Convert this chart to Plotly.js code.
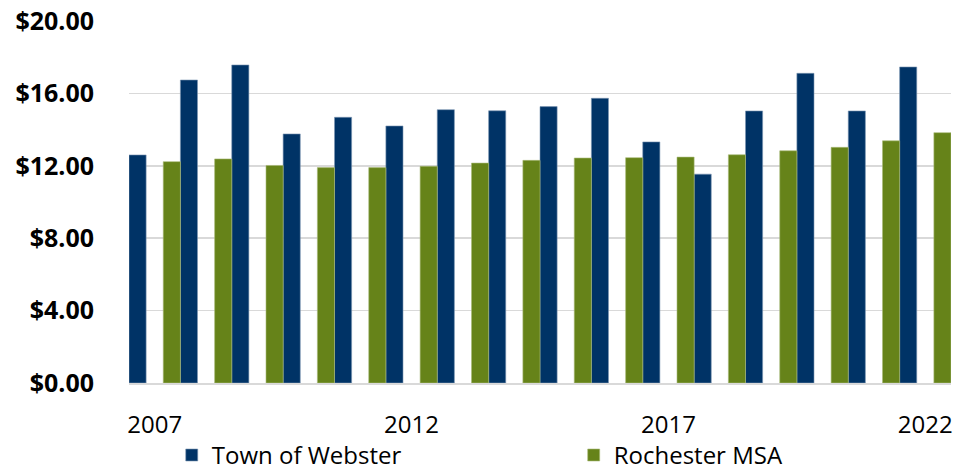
<!DOCTYPE html>
<html>
<head>
<meta charset="utf-8">
<script src="https://cdn.plot.ly/plotly-3.0.1.min.js"></script>
<style>
html,body{margin:0;padding:0;background:#fff;}
#chart{width:955px;height:472px;}
</style>
</head>
<body>
<div id="chart"></div>
<script>
var years = [2007,2008,2009,2010,2011,2012,2013,2014,2015,2016,2017,2018,2019,2020,2021,2022];
var webster = [12.60,16.74,17.57,13.76,14.68,14.20,15.10,15.04,15.27,15.73,13.32,11.54,15.03,17.11,15.03,17.46];
var msa = [12.23,12.38,12.02,11.90,11.90,11.97,12.15,12.30,12.43,12.45,12.48,12.61,12.83,13.02,13.38,13.83];
var yTicks = [0,4,8,12,16,20];
var yTickText = ['$0.00','$4.00','$8.00','$12.00','$16.00','$20.00'];
var xTicks = [2007,2012,2017,2022];

var traces = [
  {type:'bar', name:'Town of Webster', x:years, y:webster, width:1/3, offset:-0.5, legend:'legend',
   marker:{color:'#003366', line:{color:'#7e97b3', width:0.6}}},
  {type:'bar', name:'Rochester MSA', x:years, y:msa, width:1/3, offset:1/6, legend:'legend2',
   marker:{color:'#668319', line:{color:'#a9bb78', width:0.6}}}
];

var legendBase = {orientation:'h', xanchor:'left', y:-0.200, yanchor:'middle',
  font:{size:24, color:'#000'}, bgcolor:'rgba(0,0,0,0)', borderwidth:0};

var layout = {
  width:955, height:472,
  margin:{l:129, r:4, t:21, b:89, autoexpand:false},
  paper_bgcolor:'#fff', plot_bgcolor:'#fff',
  barmode:'overlay',
  font:{family:'"Open Sans", sans-serif', color:'#000'},
  showlegend:true,
  legend:Object.assign({}, legendBase, {x:0.052}),
  legend2:Object.assign({}, legendBase, {x:0.541}),
  xaxis:{type:'linear', range:[2006.5,2022.5], tickvals:xTicks, ticktext:xTicks.map(String),
         showgrid:false, zeroline:false, showline:true, linecolor:'#d9d9d9', linewidth:2,
         ticks:'', tickfont:{size:24, color:'#000'}, ticklabelstandoff:19, fixedrange:true},
  yaxis:{range:[0,20], tickvals:yTicks, ticktext:yTickText, showgrid:true, gridcolor:'#d9d9d9',
         gridwidth:1.5, zeroline:false, showline:false, ticks:'',
         tickfont:{size:25, color:'#000', weight:'bold'}, ticklabelstandoff:34, fixedrange:true}
};

Plotly.newPlot('chart', traces, layout, {displayModeBar:false, staticPlot:true});
</script>
</body>
</html>
